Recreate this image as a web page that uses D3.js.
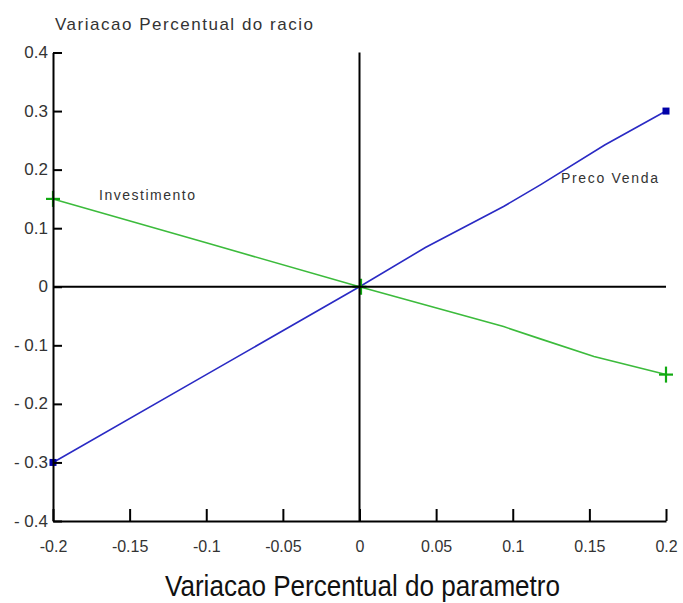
<!DOCTYPE html>
<html>
<head>
<meta charset="utf-8">
<script src="https://cdn.jsdelivr.net/npm/d3@7"></script>
<style>
  html, body { margin: 0; padding: 0; background: #fff; }
  svg { display: block; font-family: "Liberation Sans", Arial, sans-serif; }
</style>
</head>
<body>
<svg id="chart" width="683" height="603"></svg>
<script>
// ---- data ----
const xTicks = [-0.2, -0.15, -0.1, -0.05, 0, 0.05, 0.1, 0.15, 0.2];
const yTicks = [-0.4, -0.3, -0.2, -0.1, 0, 0.1, 0.2, 0.3, 0.4];

const precoX = [-0.2, -0.1, 0, 0.043, 0.094, 0.118, 0.16, 0.2];
const precoY = [-0.3, -0.15, 0, 0.067, 0.137, 0.174, 0.242, 0.3];

const investX = [-0.2, -0.1, 0, 0.094, 0.118, 0.153, 0.2];
const investY = [0.15, 0.075, 0, -0.068, -0.089, -0.119, -0.15];

const seriesNames = ["Preco Venda", "Investimento"];
const titleText = "Variacao Percentual do racio";
const xTitleText = "Variacao Percentual do parametro";

// ---- layout ----
const svg = d3.select("#chart");
const x = d3.scaleLinear().domain([-0.2, 0.2]).range([53, 666]);
const y = d3.scaleLinear().domain([-0.4, 0.4]).range([521, 52.5]);

const line = d3.line().x(d => x(d[0])).y(d => y(d[1]));
const preco = precoX.map((v, i) => [v, precoY[i]]);
const invest = investX.map((v, i) => [v, investY[i]]);

// data lines
svg.append("path").datum(preco).attr("d", line)
  .attr("fill", "none").attr("stroke", "#2a2ac4").attr("stroke-width", 1.6);
svg.append("path").datum(invest).attr("d", line)
  .attr("fill", "none").attr("stroke", "#3cbb3c").attr("stroke-width", 1.6);

// markers: squares at the ends of Preco Venda, plus signs at ends and origin of Investimento
const ends = arr => [arr[0], arr[arr.length - 1]];
svg.selectAll(".sq").data(ends(preco)).join("rect").attr("class", "sq")
  .attr("x", d => x(d[0]) - 3.5).attr("y", d => y(d[1]) - 3.5)
  .attr("width", 7).attr("height", 7).attr("fill", "#0000a8");
const plusPts = [invest[0], invest.find(d => d[0] === 0), invest[invest.length - 1]];
const plus = svg.selectAll(".pl").data(plusPts).join("g").attr("class", "pl")
  .attr("transform", d => `translate(${x(d[0])},${y(d[1])})`);
plus.append("line").attr("x1", -7).attr("x2", 7).attr("stroke", "#11aa11").attr("stroke-width", 2.2);
plus.append("line").attr("y1", -8).attr("y2", 8).attr("stroke", "#11aa11").attr("stroke-width", 2.2)
  .attr("transform", d => d[0] === 0 ? "translate(1.5,0)" : null);

// zero lines
svg.append("line").attr("x1", x(-0.2)).attr("x2", x(0.2))
  .attr("y1", y(0)).attr("y2", y(0)).attr("stroke", "#000").attr("stroke-width", 2);
svg.append("line").attr("x1", x(0)).attr("x2", x(0))
  .attr("y1", y(0.4)).attr("y2", y(-0.4)).attr("stroke", "#000").attr("stroke-width", 2);

// axes
const fmtY = d => d === 0 ? "0" : (d < 0 ? "- " + Math.abs(d) : String(d));
const fmtX = d => d === 0 ? "0" : (d < 0 ? "-" + Math.abs(d) : String(d));

const gy = svg.append("g").attr("transform", `translate(${x(-0.2)},0)`)
  .call(d3.axisLeft(y).tickValues(yTicks).tickFormat(fmtY).tickSizeInner(-9).tickSizeOuter(0).tickPadding(5));
const gx = svg.append("g").attr("transform", `translate(0,${y(-0.4)})`)
  .call(d3.axisBottom(x).tickValues(xTicks).tickFormat(fmtX).tickSizeInner(-12).tickSizeOuter(0).tickPadding(20));

[gx, gy].forEach(g => {
  g.select(".domain").attr("stroke", "#000").attr("stroke-width", 2);
  g.selectAll(".tick line").attr("stroke", "#000").attr("stroke-width", 2);
  g.selectAll(".tick text").attr("fill", "#333")
    .attr("font-family", "Liberation Sans, Arial, sans-serif");
});
gx.selectAll(".tick text").attr("font-size", 16);
gy.selectAll(".tick text").attr("font-size", 17).attr("dy", "0.3em");

// titles
svg.append("text").attr("x", 55).attr("y", 30).attr("fill", "#333")
  .attr("font-size", 17).attr("textLength", 258).attr("lengthAdjust", "spacing")
  .text(titleText);
svg.append("text").attr("x", 165).attr("y", 596).attr("fill", "#111")
  .attr("font-size", 30).attr("textLength", 395).attr("lengthAdjust", "spacingAndGlyphs")
  .text(xTitleText);

// series labels
svg.append("text").attr("x", 561).attr("y", 183).attr("fill", "#333")
  .attr("font-size", 14).attr("textLength", 97).attr("lengthAdjust", "spacing")
  .text(seriesNames[0]);
svg.append("text").attr("x", 99).attr("y", 200).attr("fill", "#333")
  .attr("font-size", 14).attr("textLength", 96).attr("lengthAdjust", "spacing")
  .text(seriesNames[1]);
</script>
</body>
</html>
